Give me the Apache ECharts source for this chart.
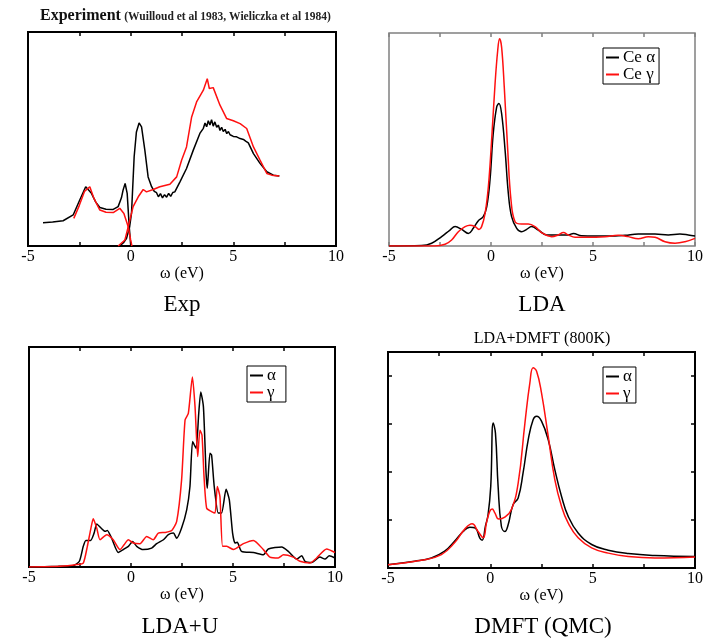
<!DOCTYPE html>
<html>
<head>
<meta charset="utf-8">
<title>Ce alpha / gamma spectra</title>
<script src="https://cdn.jsdelivr.net/npm/echarts@6.0.0/dist/echarts.min.js"></script>
<style>
html, body { margin: 0; padding: 0; background: #fff; }
#chart { width: 707px; height: 640px; }
</style>
</head>
<body>
<div id="chart"></div>
<script>
// ω (eV), intensity (arb. units, 0..100 of panel height)
const expAlphaPes = [[-4.27,10.9],[-3.8,11.2],[-3.29,11.8],[-2.8,14.5],[-2.48,21.5],[-2.19,27.7],[-1.91,24.6],[-1.7,20.5],[-1.5,18],[-1.2,17.2],[-0.85,17.1],[-0.61,18.4],[-0.45,22.5],[-0.37,26.1],[-0.27,29.2],[-0.17,24.6],[-0.07,9],[0.0,0.5]]
const expAlphaBis = [[-0.53,0],[-0.35,1.5],[-0.2,3.6],[-0.05,9],[0.04,15.2],[0.17,41.7],[0.28,53.3],[0.41,57.5],[0.53,55.7],[0.69,44.8],[0.85,32.3],[1.02,27.7],[1.15,25.5],[1.26,24.9],[1.35,23],[1.45,24.5],[1.55,22.5],[1.65,24],[1.75,22.8],[1.85,24.6],[1.95,23.2],[2.05,25],[2.15,25.3],[2.4,30],[2.72,36.2],[3.05,44.8],[3.37,52.6],[3.54,55],[3.62,57.5],[3.7,55.7],[3.78,58.5],[3.86,56.5],[3.94,59],[4.02,56],[4.1,58],[4.19,55.5],[4.27,56.5],[4.35,54],[4.43,55.5],[4.51,53.5],[4.6,54.5],[4.68,52.5],[4.76,53.5],[4.84,52],[4.92,52.8],[5.0,51.2],[5.16,51],[5.25,51.5],[5.33,50.2],[5.49,49.8],[5.6,49],[5.73,48.2],[5.98,43.2],[6.3,38.6],[6.63,34.7],[6.95,33.1],[7.24,32.7]]
const expGammaPes = [[-2.77,12.9],[-2.5,19],[-2.25,25.5],[-1.99,27.7],[-1.8,22.5],[-1.5,16.8],[-1.2,15.8],[-0.85,15.6],[-0.53,17.6],[-0.33,15.2],[-0.12,9],[0.0,2.8],[0.06,0]]
const expGammaBis = [[-0.61,0],[-0.28,2.8],[-0.04,12.1],[0.12,18.4],[0.37,23],[0.61,26.4],[0.77,25.3],[1.1,26.4],[1.42,27.7],[1.91,28.9],[2.24,32.3],[2.48,40.1],[2.72,46.3],[2.97,60.3],[3.21,67.3],[3.54,72.8],[3.73,78.2],[3.83,73.6],[4.02,74],[4.35,65.8],[4.67,59.6],[5.0,58.5],[5.33,57.2],[5.65,54.9],[5.98,46.3],[6.3,40.1],[6.63,33.9],[6.87,33.1],[7.24,32.7]]

const ldaAlpha = [[-5,0],[-3.4,0.2],[-2.91,1.3],[-2.42,4.4],[-2.01,7.5],[-1.76,9.1],[-1.44,7.8],[-1.11,5.9],[-0.87,8.3],[-0.62,11.9],[-0.38,13.8],[-0.21,18.4],[-0.05,30.9],[0.11,52.8],[0.28,65.3],[0.39,66.9],[0.52,62.2],[0.69,45],[0.85,24.7],[1.01,13.8],[1.26,8.3],[1.5,6.7],[1.75,7.8],[1.99,9.1],[2.32,7.5],[2.73,5.2],[3.14,5.2],[3.79,5.2],[4.04,5.9],[4.44,4.8],[5.1,4.7],[6.08,4.7],[6.57,5],[7.22,5.6],[8.04,5.6],[8.69,5.2],[9.26,5.6],[9.67,5.2],[10,4.7]]
const ldaGamma = [[-5,0],[-2.75,0],[-2.25,0.8],[-1.93,2.8],[-1.6,6.7],[-1.27,9.1],[-1.03,9.8],[-0.78,9.1],[-0.59,7.8],[-0.46,9.1],[-0.29,15.3],[-0.13,27.8],[0.03,49.7],[0.2,76.3],[0.33,91.9],[0.42,97.3],[0.52,93.4],[0.65,74.7],[0.82,45],[0.98,21.6],[1.18,11.4],[1.5,10.3],[1.83,10.3],[2.16,9.1],[2.48,6.3],[2.97,4.4],[3.3,5.2],[3.55,6.3],[3.79,5.2],[4.12,4.1],[4.77,4.1],[5.59,4.4],[6.24,5],[6.73,4.4],[7.22,3.4],[7.71,4.4],[8.04,4.1],[8.53,2],[9.02,1.3],[9.51,2],[10,3.6]]

const ldauAlpha = [[-5,0],[-3.56,0.3],[-2.83,0.6],[-2.53,2.6],[-2.34,9.4],[-2.21,12.1],[-1.98,12.1],[-1.81,15.4],[-1.68,19.6],[-1.47,17.7],[-1.27,16.2],[-1.16,16.6],[-0.95,13.1],[-0.62,6.6],[-0.38,7.9],[-0.13,9.4],[0.08,11.6],[0.28,9.4],[0.6,7.9],[1.01,8.6],[1.26,10.6],[1.59,12.4],[1.83,14.7],[2.08,15.4],[2.24,13.1],[2.48,17.7],[2.73,26],[2.89,36.6],[3.02,57],[3.19,53.9],[3.32,69.8],[3.42,79.6],[3.55,72.8],[3.68,42.6],[3.74,35.8],[3.87,51.7],[3.95,50.9],[4.08,36.6],[4.28,24.5],[4.44,24.5],[4.66,35.3],[4.82,30.5],[4.98,15.4],[5.1,10.9],[5.21,11.2],[5.42,7.1],[6.0,6.6],[6.49,5.6],[6.73,8.2],[7.39,9.1],[7.71,7.1],[8.12,3.6],[8.37,5.1],[8.53,2.6],[8.86,2.1],[9.26,4.5],[9.51,3.6],[9.72,5.1],[10,4.1]]
const ldauGamma = [[-5,0],[-3.48,0.3],[-2.66,1.1],[-2.34,1.8],[-2.14,9.4],[-1.98,16.9],[-1.85,21.9],[-1.68,17.7],[-1.52,12.4],[-1.19,14.7],[-0.87,12.4],[-0.54,7.9],[-0.34,10.1],[-0.13,12.4],[0.11,10.9],[0.44,10.6],[0.77,13.9],[1.09,12.4],[1.34,15.4],[1.67,15.7],[2.0,16.6],[2.24,20.7],[2.48,39.6],[2.65,66.8],[2.81,69.8],[3.01,86.4],[3.14,72.8],[3.27,50.2],[3.38,62.2],[3.48,60],[3.58,41.1],[3.71,26.7],[3.95,25.2],[4.12,24.5],[4.23,36.6],[4.36,32],[4.49,9.4],[4.69,9.4],[5.02,7.9],[5.51,10.6],[6.0,12.1],[6.49,7.9],[6.81,4.5],[7.22,4.1],[7.47,5.6],[7.96,4.5],[8.28,2.6],[8.77,1.8],[9.1,4.1],[9.59,8.2],[10,6.6]]

const dmftAlpha = [[-5,0.07],[-3.7,0.14],[-2.88,0.21],[-2.23,0.35],[-1.74,0.56],[-1.33,0.76],[-1.0,0.85],[-0.73,0.83],[-0.52,0.63],[-0.4,0.58],[-0.24,0.87],[-0.11,1.11],[0.02,1.7],[0.14,3.02],[0.25,2.81],[0.38,1.7],[0.54,0.87],[0.71,0.76],[0.87,0.9],[1.11,1.32],[1.36,1.46],[1.6,1.98],[1.85,2.67],[2.09,3.09],[2.26,3.16],[2.5,3.06],[2.83,2.67],[3.15,2.05],[3.48,1.49],[3.8,1.08],[4.29,0.73],[4.95,0.49],[5.76,0.37],[6.74,0.3],[8.04,0.26],[10,0.24]]
const dmftGamma = [[-5,0.07],[-3.37,0.16],[-2.39,0.28],[-1.74,0.53],[-1.25,0.81],[-0.89,0.92],[-0.6,0.76],[-0.35,0.63],[-0.19,0.94],[-0.03,1.18],[0.09,1.23],[0.22,1.15],[0.41,1.02],[0.71,1.06],[1.03,1.22],[1.36,1.77],[1.69,3.02],[1.93,3.85],[2.09,4.17],[2.26,4.1],[2.5,3.65],[2.83,2.74],[3.15,1.84],[3.48,1.28],[3.8,0.94],[4.29,0.63],[4.95,0.42],[5.76,0.31],[6.74,0.24],[8.04,0.21],[10,0.23]]

const xLabels = ['-5', '0', '5', '10']
const captions = ['Exp', 'LDA', 'LDA+U', 'DMFT (QMC)']

const SERIF = '"Liberation Serif", "DejaVu Serif", serif'
const BLACK = '#000'
const RED = '#ff1010'

const grids = [
  { left: 28, top: 32, width: 308, height: 214, borderColor: '#000', borderWidth: 2 },
  { left: 389, top: 33, width: 306, height: 213, borderColor: '#808080', borderWidth: 1.5 },
  { left: 29, top: 347, width: 306, height: 220, borderColor: '#000', borderWidth: 2 },
  { left: 388, top: 352, width: 307, height: 216, borderColor: '#000', borderWidth: 2 }
].map((g) => ({ ...g, show: true, backgroundColor: 'transparent' }))

const xAxis = []
grids.forEach((g, i) => {
  const tickColor = i === 1 ? '#808080' : '#000'
  xAxis.push({
    type: 'value', gridIndex: i, min: -5, max: 10, interval: 2.5,
    axisLine: { show: false, onZero: false },
    axisTick: { inside: true, length: 4, lineStyle: { color: tickColor, width: 1.5 } },
    splitLine: { show: false },
    axisLabel: {
      formatter: (v) => (xLabels.includes(String(v)) ? String(v) : ''),
      fontFamily: SERIF, fontSize: 16, color: '#000', margin: 3
    },
    name: 'ω (eV)', nameLocation: 'middle', nameGap: 19,
    nameTextStyle: { fontFamily: SERIF, fontSize: 16, color: '#000' }
  })
  xAxis.push({
    type: 'value', gridIndex: i, position: 'top', min: -5, max: 10, interval: 2.5,
    axisLine: { show: false, onZero: false },
    axisTick: { inside: true, length: 4, lineStyle: { color: tickColor, width: 1.5 } },
    axisLabel: { show: false }, splitLine: { show: false }
  })
})

const yAxis = [
  { type: 'value', gridIndex: 0, min: 0, max: 100, show: false },
  { type: 'value', gridIndex: 1, min: 0, max: 100, show: false },
  { type: 'value', gridIndex: 2, min: 0, max: 100, show: false },
  ...['left', 'right'].map((pos) => ({
    type: 'value', gridIndex: 3, position: pos, min: 0, max: 4.5, interval: 1,
    axisLine: { show: false, onZero: false },
    axisTick: { inside: true, length: 4, lineStyle: { color: '#000', width: 1.5 } },
    axisLabel: { show: false }, splitLine: { show: false }
  }))
]

function line(name, data, panel, color, smooth) {
  return {
    name, type: 'line', data, xAxisIndex: panel * 2, yAxisIndex: panel,
    showSymbol: false, smooth, silent: true, z: color === RED ? 3 : 2,
    lineStyle: { color, width: 1.5 }, itemStyle: { color }
  }
}

const series = [
  line('Exp α PES', expAlphaPes, 0, BLACK, false),
  line('Exp γ PES', expGammaPes, 0, RED, false),
  line('Exp γ BIS', expGammaBis, 0, RED, false),
  line('Exp α BIS', expAlphaBis, 0, BLACK, false),
  line('Ce α', ldaAlpha, 1, BLACK, 0.4),
  line('Ce γ', ldaGamma, 1, RED, 0.4),
  line('α', ldauAlpha, 2, BLACK, 0.2),
  line('γ', ldauGamma, 2, RED, 0.2),
  line('α', dmftAlpha, 3, BLACK, 0.45),
  line('γ', dmftGamma, 3, RED, 0.45)
]

function legend(names, left, top, padRight) {
  return {
    data: names, left, top, orient: 'vertical', itemGap: 0,
    icon: 'rect', itemWidth: 13, itemHeight: 2,
    borderColor: '#000', borderWidth: 1, padding: [1, padRight, 1, 3],
    backgroundColor: '#fff', selectedMode: false,
    textStyle: { fontFamily: SERIF, fontSize: 17, lineHeight: 15, color: '#000', padding: [0, 0, 0, -1] }
  }
}

const graphic = [
  {
    type: 'text', x: 40, y: 16,
    style: {
      text: '{a|Experiment} {b|(Wuilloud et al 1983, Wieliczka et al 1984)}',
      verticalAlign: 'middle', fill: '#000',
      rich: {
        a: { fontFamily: SERIF, fontSize: 16, fontWeight: 'bold', fill: '#111' },
        b: { fontFamily: SERIF, fontSize: 11.5, fontWeight: 'bold', fill: '#222', padding: [2, 0, 0, 0] }
      }
    }
  },
  {
    type: 'text', x: 542, y: 339,
    style: { text: 'LDA+DMFT (800K)', align: 'center', verticalAlign: 'middle', font: '16px ' + SERIF, fill: '#000' }
  },
  ...captions.map((t, i) => ({
    type: 'text', x: [182, 542, 180, 543][i], y: [305, 305, 627, 627][i],
    style: { text: t, align: 'center', verticalAlign: 'middle', font: '23px ' + SERIF, fill: '#000' }
  }))
]

const chart = echarts.init(document.getElementById('chart'), null, { renderer: 'canvas' })
chart.setOption({
  animation: false,
  backgroundColor: '#fff',
  grid: grids,
  xAxis, yAxis, series, graphic,
  legend: [
    legend(['Ce α', 'Ce γ'], 603, 48, 4),
    { ...legend(['α', 'γ'], 247, 366, 10), id: 'lu' },
    { ...legend(['α', 'γ'], 603, 367, 4), id: 'dm' }
  ]
})
</script>
</body>
</html>
